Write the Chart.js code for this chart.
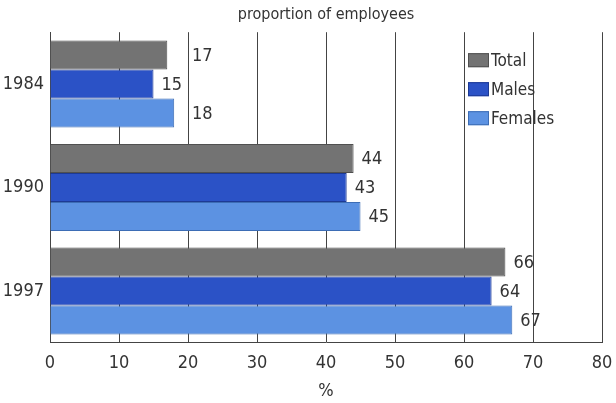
<!DOCTYPE html>
<html>
<head>
<meta charset="utf-8">
<script src="https://cdn.jsdelivr.net/npm/chart.js@4/dist/chart.umd.min.js"></script>
<style>
  html, body { margin: 0; padding: 0; background: #fff; }
  #wrap { width: 616px; height: 403px; }
</style>
</head>
<body>
<div id="wrap"><canvas id="chart"></canvas></div>
<script>
let years = ["1984", "1990", "1997"];
let total = [17, 44, 66];
let males = [15, 43, 64];
let females = [18, 45, 67];
let xTicks = [0, 10, 20, 30, 40, 50, 60, 70, 80];

const FONT = "'Liberation Sans Narrow', 'DejaVu Sans Condensed', sans-serif";
const TEXT = "#333333";

// value labels to the right of each bar, nudged past a grid line if they would sit on it
const valueLabels = {
    id: 'valueLabels',
    afterDatasetsDraw(chart) {
        const ctx = chart.ctx;
        const xs = chart.scales.x;
        const lines = xs.ticks.map(t => xs.getPixelForValue(t.value));
        ctx.save();
        ctx.font = "18px " + FONT;
        ctx.fillStyle = TEXT;
        ctx.textAlign = 'left';
        ctx.textBaseline = 'middle';
        chart.data.datasets.forEach((ds, i) => {
            chart.getDatasetMeta(i).data.forEach((bar, j) => {
                const txt = String(ds.data[j]);
                let x = bar.x + 8;
                const w = ctx.measureText(txt).width;
                lines.forEach(lx => {
                    if (lx > x - 1 && lx < x + w + 1 && ds.data[j] < 30) x = lx + 4;
                });
                ctx.fillText(txt, x, bar.y + 1);
            });
        });
        ctx.restore();
    }
};

// legend sits inside the plot, upper right
const innerLegend = {
    id: 'innerLegend',
    afterDraw(chart) {
        const ctx = chart.ctx;
        const x = chart.chartArea.right - 134;
        let y = chart.chartArea.top + 28;
        ctx.save();
        ctx.font = "17px " + FONT;
        ctx.textBaseline = 'middle';
        ctx.textAlign = 'left';
        chart.data.datasets.forEach(ds => {
            ctx.fillStyle = ds.backgroundColor;
            ctx.fillRect(x, y - 7, 21, 14);
            ctx.strokeStyle = ds.borderColor;
            ctx.lineWidth = 1;
            ctx.strokeRect(x + 0.5, y - 6.5, 20, 13);
            ctx.fillStyle = TEXT;
            ctx.fillText(ds.label, x + 23, y + 1);
            y += 29;
        });
        ctx.restore();
    }
};

new Chart(document.getElementById("chart"), {
    type: 'bar',
    data: {
        labels: years,
        datasets: [
            { label: "Total", data: total, backgroundColor: "#737373", borderColor: "#505050" },
            { label: "Males", data: males, backgroundColor: "#2b52c6", borderColor: "#1d3a94" },
            { label: "Females", data: females, backgroundColor: "#5c92e2", borderColor: "#3d6db5" }
        ]
    },
    options: {
        indexAxis: 'y',
        responsive: true,
        maintainAspectRatio: false,
        animation: false,
        datasets: {
            bar: { categoryPercentage: 0.84, barPercentage: 1.0, borderWidth: 1 }
        },
        layout: { padding: { left: 3, right: 0, top: 0, bottom: 1 } },
        plugins: {
            legend: { display: false },
            tooltip: { enabled: false },
            title: {
                display: true,
                fullSize: false,
                text: 'proportion of employees',
                color: TEXT,
                font: { family: FONT, size: 16, weight: 'normal' },
                padding: { top: 5, bottom: 8 }
            }
        },
        scales: {
            x: {
                min: 0,
                max: 80,
                afterBuildTicks: axis => { axis.ticks = xTicks.map(v => ({ value: v })); },
                afterFit: axis => { axis.paddingRight = 14; },
                grid: { color: "#444444", lineWidth: 1, drawTicks: false },
                border: { display: true, color: "#444444", width: 1 },
                ticks: { color: TEXT, font: { family: FONT, size: 18 }, padding: 10 },
                title: {
                    display: true,
                    text: '%',
                    color: TEXT,
                    font: { family: FONT, size: 18 },
                    padding: { top: -4, bottom: 0 }
                }
            },
            y: {
                afterFit: axis => { axis.width = 47; },
                grid: { display: false, drawTicks: false },
                border: { display: true, color: "#444444", width: 1 },
                ticks: { color: TEXT, font: { family: FONT, size: 18 }, padding: 6 }
            }
        }
    },
    plugins: [valueLabels, innerLegend]
});
</script>
</body>
</html>
